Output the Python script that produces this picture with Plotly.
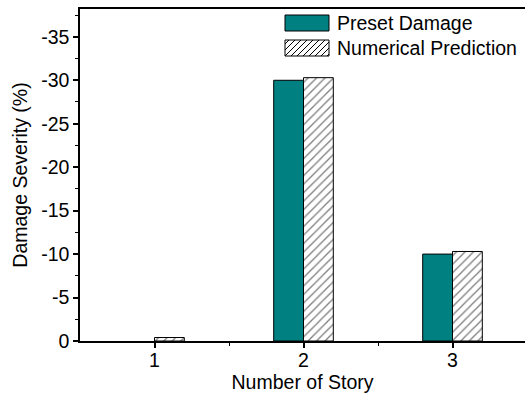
import plotly.graph_objects as go

stories = [1, 2, 3]
preset_damage = [0, -30, -10]
numerical_prediction = [-0.4, -30.3, -10.3]
y_ticks = [0, -5, -10, -15, -20, -25, -30, -35]
y_ticktext = ["0", "-5", "-10", "-15", "-20", "-25", "-30", "-35"]
series_names = ["Preset Damage", "Numerical Prediction"]

TEAL = "#008080"
FONT = "Liberation Sans, Arial, sans-serif"
FS = 19.5
W, H = 525, 396
ML, MR, MT, MB = 80, 0, 9, 55
PW, PH = W - ML - MR, H - MT - MB

def px(x):
    return (x - ML) / PW

def py(y):
    return (H - MB - y) / PH

fig = go.Figure()
fig.add_trace(go.Bar(
    x=stories, y=preset_damage, name=series_names[0],
    marker=dict(color=TEAL,
                line=dict(color="black", width=[0 if v == 0 else 1 for v in preset_damage])),
    showlegend=False,
))
fig.add_trace(go.Bar(
    x=stories, y=numerical_prediction, name=series_names[1],
    marker=dict(color="white", line=dict(color="black", width=1),
                pattern=dict(shape="/", fgcolor="black", bgcolor="white",
                             size=6, solidity=0.22)),
    showlegend=False,
))

# custom legend swatches
shapes = []
sx0, sx1 = 285, 329
shapes.append(dict(type="rect", xref="paper", yref="paper",
                   x0=px(sx0), x1=px(sx1), y0=py(31), y1=py(15),
                   fillcolor=TEAL, line=dict(color="black", width=1)))
hy0, hy1 = 40, 56
path = ""
c = sx0 + hy0 + 4
while c < sx1 + hy1:
    xa = max(sx0, c - hy1)
    xb = min(sx1, c - hy0)
    if xb > xa:
        ya = c - xa
        yb = c - xb
        path += f"M{px(xa)},{py(ya)} L{px(xb)},{py(yb)} "
    c += 6
shapes.append(dict(type="rect", xref="paper", yref="paper",
                   x0=px(sx0), x1=px(sx1), y0=py(hy1), y1=py(hy0),
                   fillcolor="white", line=dict(color="black", width=1)))
shapes.append(dict(type="path", xref="paper", yref="paper", path=path,
                   line=dict(color="black", width=1)))
annotations = []
for name, yc in zip(series_names, [23, 48]):
    annotations.append(dict(text=name, xref="paper", yref="paper",
                            x=px(335), y=py(yc), xanchor="left", yanchor="middle",
                            showarrow=False, font=dict(family=FONT, size=FS, color="black")))

fig.update_layout(
    width=W, height=H,
    margin=dict(l=ML, r=MR, t=MT, b=MB),
    paper_bgcolor="white", plot_bgcolor="white",
    barmode="group", bargap=0.6, bargroupgap=0,
    font=dict(family=FONT, size=FS, color="black"),
    shapes=shapes, annotations=annotations,
    showlegend=False,
)
fig.update_xaxes(
    range=[0.5, 0.5 + PW / 149], tickvals=stories, ticktext=[str(s) for s in stories],
    ticks="outside", ticklen=5, tickwidth=1.5, tickcolor="black",
    minor=dict(tickvals=[1.5, 2.5], ticks="outside", ticklen=3, tickcolor="black", tickwidth=1),
    showline=True, linecolor="black", linewidth=2, mirror=True,
    showgrid=False, zeroline=False, layer="above traces",
    ticklabelstandoff=-4,
    title=dict(text="Number of Story", standoff=0, font=dict(size=FS)),
    tickfont=dict(size=FS),
)
fig.update_yaxes(
    range=[0, -38.2], tickvals=y_ticks, ticktext=y_ticktext,
    ticks="outside", ticklen=5, tickwidth=1.5, tickcolor="black",
    minor=dict(dtick=2.5, ticks="outside", ticklen=3, tickcolor="black", tickwidth=1),
    showline=True, linecolor="black", linewidth=1.5,
    showgrid=False, zeroline=False, layer="above traces",
    title=dict(text="Damage Severity (%)", standoff=8, font=dict(size=FS)),
    tickfont=dict(size=FS),
)
fig.write_html("out.html")
